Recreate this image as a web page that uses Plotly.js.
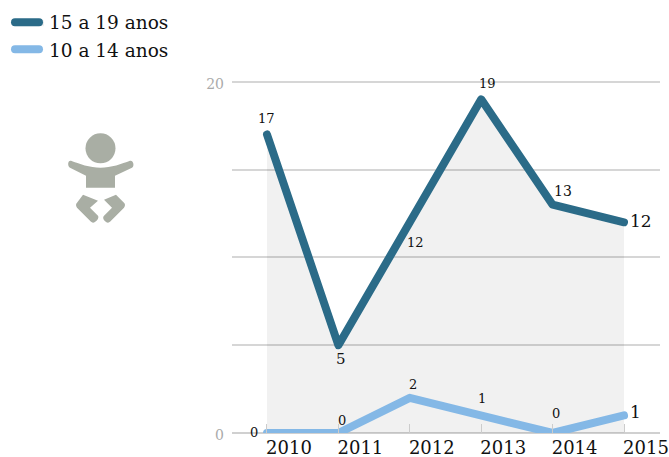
<!DOCTYPE html>
<html><head><meta charset="utf-8">
<script src="https://cdn.plot.ly/plotly-3.0.1.min.js"></script>
<style>
html,body{margin:0;padding:0;background:#fff}
#c{width:669px;height:457px}
.scatterlayer .js-line,.legendlines path{stroke-linecap:round;stroke-linejoin:round}
</style></head><body><div id="c"></div>
<script>
const years=[2010,2011,2012,2013,2014,2015];
const teens=[17,5,12,19,13,12];
const kids=[0,0,2,1,0,1];
const teensName='15 a 19 anos';
const kidsName='10 a 14 anos';
const yTicks=[0,5,10,15,20];
const yTickText=['0','','','','20'];
const FONT='"DejaVu Serif",serif';
const teensOff=[[0,16,13],[3,-14,15],[6,-20,13],[6,16,13],[10,14,14],[17,1,17]];
const kidsOff=[[-13,1,13],[4,13,13],[3,13,13],[1,17,13],[3,20,13],[11,3,17]];
function labels(vals,off){return vals.map((v,i)=>({x:years[i],y:v,xref:'x',yref:'y',text:String(v),showarrow:false,
  xshift:off[i][0],yshift:off[i][1],font:{family:FONT,size:off[i][2],color:'#111'}}));}
const icon='<svg xmlns="http://www.w3.org/2000/svg" width="70" height="95" viewBox="65 130 70 95">'+
 '<g fill="#a9aea4" stroke="none"><circle cx="100.5" cy="148.5" r="15"/>'+
 '<path d="M71 161C79 164 90 168 100.500 168C111 168 122 164 130 161C133 160 135 166 132 168L115 176V188H86V176L70 168C67 166 68 160 71 161Z"/>'+
 '<path d="M83 195L98 201L90 208L98 216C100 219 94 225 91 222L77 208Q75 205 77 203Z"/>'+
 '<path d="M116 195L104 200L112 208L104 216C101 219 107 225 110 222L124 208Q126 205 124 203Z"/></g></svg>';
const traces=[
 {x:years,y:teens,name:teensName,mode:'lines',type:'scatter',fill:'tozeroy',fillcolor:'rgba(0,0,0,0.055)',cliponaxis:false,
  line:{color:'#2b6b88',width:8}},
 {x:years,y:kids,name:kidsName,mode:'lines',type:'scatter',cliponaxis:false,
  line:{color:'#84b8e6',width:8}}
];
const top20=82, yZero=433, pxPerUnit=(yZero-top20)/20, extra=0.5;
const plotTop=top20-extra*pxPerUnit, plotH=yZero-plotTop;
const layout={
 width:669,height:457,margin:{l:232,r:9,t:plotTop,b:457-yZero,pad:0,autoexpand:false},paper_bgcolor:'#fff',plot_bgcolor:'#fff',
 font:{family:FONT},
 xaxis:{range:[2009.51,2015.504],tickvals:years,ticktext:years.map(String),ticks:'inside',ticklen:9,tickcolor:'#ccc',tickwidth:1,
  showgrid:false,zeroline:false,showline:false,ticklabelshift:22,ticklabelstandoff:2,ticklabeloverflow:'allow',tickfont:{family:FONT,size:18,color:'#111'}},
 yaxis:{range:[0,20+extra],tickvals:yTicks,ticktext:yTickText,showgrid:true,gridcolor:'#d6d6d6',gridwidth:2,zeroline:true,zerolinecolor:'#d0d0d0',zerolinewidth:2,
  ticks:'',showline:false,ticklabelstandoff:7,ticklabelshift:2,ticklabeloverflow:'allow',tickfont:{family:FONT,size:14,color:'#aaa'}},
 legend:{x:(9-232)/428,y:1+(plotTop-4)/plotH,xanchor:'left',yanchor:'top',bgcolor:'rgba(0,0,0,0)',font:{family:FONT,size:18.5,color:'#111'},itemwidth:30,tracegroupgap:0},
 showlegend:true,
 annotations:labels(teens,teensOff).concat(labels(kids,kidsOff)),
 images:[{source:'data:image/svg+xml;charset=utf-8,'+encodeURIComponent(icon),xref:'paper',yref:'paper',
  x:(65-232)/428,y:1-(130-plotTop)/plotH,sizex:70/428,sizey:95/plotH,xanchor:'left',yanchor:'top',sizing:'stretch',layer:'above'}]
};
Plotly.newPlot('c',traces,layout,{displayModeBar:false,staticPlot:true}).then(()=>{
 document.querySelectorAll('.legendlines path').forEach(p=>p.setAttribute('d','M6,0h24'));
});
</script></body></html>
